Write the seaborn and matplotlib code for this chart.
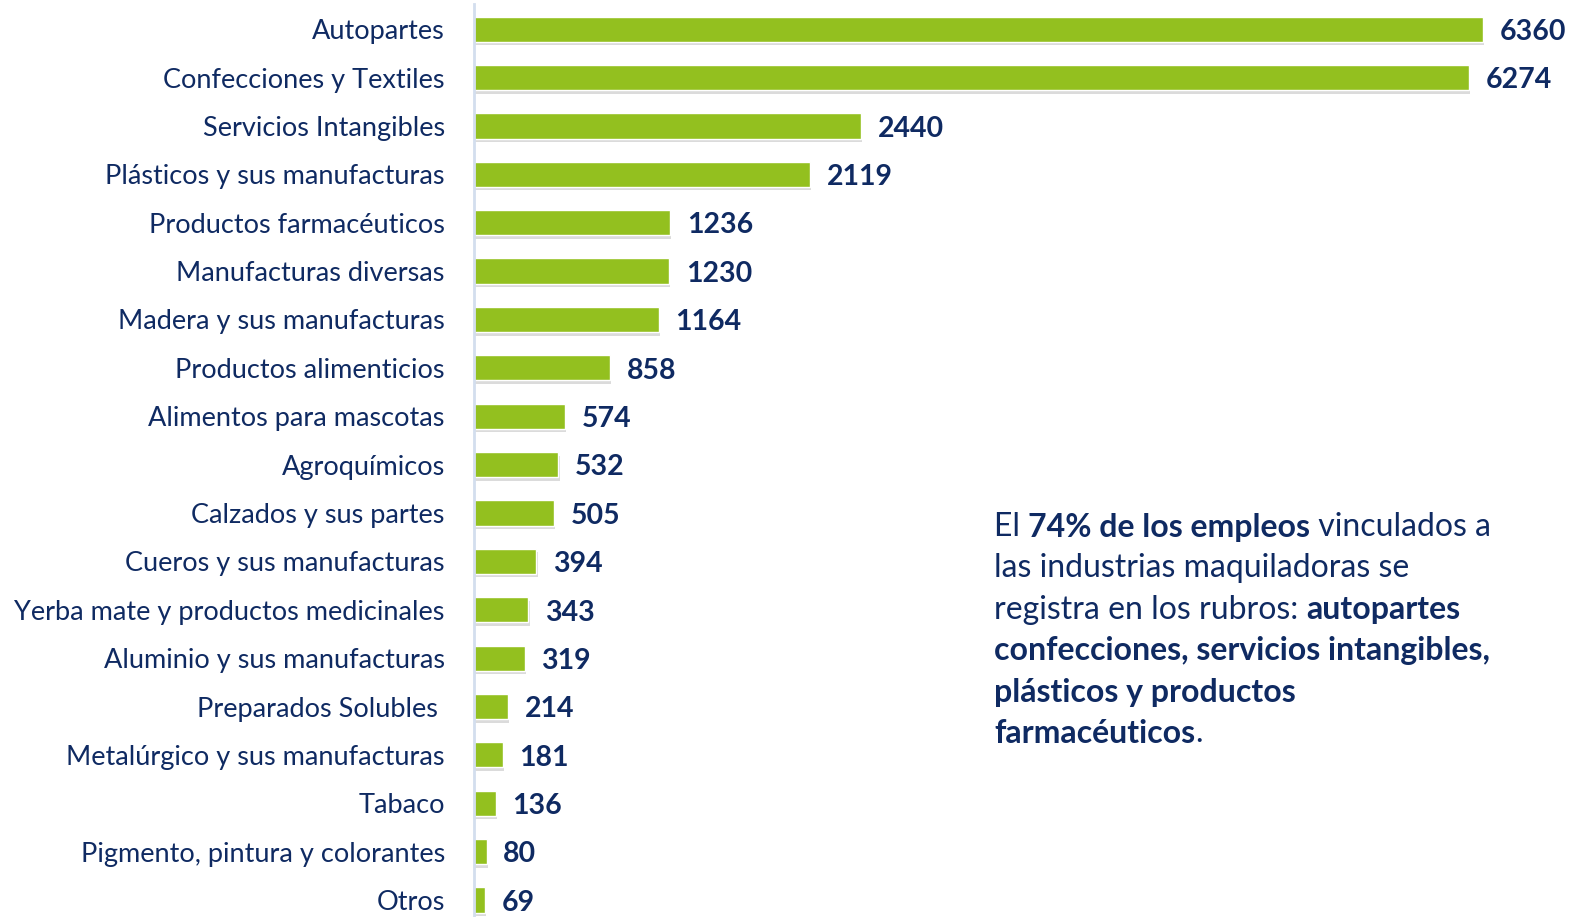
import matplotlib.pyplot as plt
import matplotlib.patheffects as pe
import pandas as pd
import seaborn as sns

categorias = [
    "Autopartes",
    "Confecciones y Textiles",
    "Servicios Intangibles",
    "Plásticos y sus manufacturas",
    "Productos farmacéuticos",
    "Manufacturas diversas",
    "Madera y sus manufacturas",
    "Productos alimenticios",
    "Alimentos para mascotas",
    "Agroquímicos",
    "Calzados y sus partes",
    "Cueros y sus manufacturas",
    "Yerba mate y productos medicinales",
    "Aluminio y sus manufacturas",
    "Preparados Solubles ",
    "Metalúrgico y sus manufacturas",
    "Tabaco",
    "Pigmento, pintura y colorantes",
    "Otros",
]
empleos = [6360, 6274, 2440, 2119, 1236, 1230, 1164, 858, 574, 532, 505, 394, 343, 319, 214, 181, 136, 80, 69]

texto = [
    [("El ", False), ("74% de los empleos", True), (" vinculados a", False)],
    [("las industrias maquiladoras se", False)],
    [("registra en los rubros: ", False), ("autopartes", True)],
    [("confecciones, servicios intangibles,", True)],
    [("plásticos y productos", True)],
    [("farmacéuticos", True), (".", False)],
]

VERDE = "#93c01f"
AZUL = "#0f2a62"

sns.set_theme(style="white")
plt.rcParams["font.family"] = ["Lato", "DejaVu Sans"]

df = pd.DataFrame({"rubro": categorias, "empleos": empleos})

W, H = 1579, 917
fig = plt.figure(figsize=(W / 100, H / 100), dpi=100)
ax = fig.add_axes([474 / W, 0, (W - 474) / W, 913 / H])

sns.barplot(data=df, x="empleos", y="rubro", color=VERDE, width=0.52,
            saturation=1, ax=ax)

for p in ax.patches:
    p.set_path_effects([pe.SimplePatchShadow(offset=(1, -2.5), shadow_rgbFace="#888888", alpha=0.3),
                        pe.Normal()])

etiquetas = ax.bar_label(ax.containers[0], fmt="%d", padding=12, fontsize=20.5,
                         fontweight="bold", color=AZUL)
for t in etiquetas:
    t.set_va("center")
    t.xyann = (12, -2)

ax.set_xlim(0, 6967)
ax.set_ylim(18.35, -0.52)
ax.set_xlabel("")
ax.set_ylabel("")
ax.set_xticks([])
ax.tick_params(axis="y", length=0, pad=21, labelsize=19.5, labelcolor=AZUL)
for s in ["top", "right", "bottom"]:
    ax.spines[s].set_visible(False)
ax.spines["left"].set_color("#d3deee")
ax.spines["left"].set_linewidth(2)

# texto con partes en negrita
fig.canvas.draw()
r = fig.canvas.get_renderer()
y0 = 527
for i, linea in enumerate(texto):
    x = 994
    y = y0 + i * 41.3
    for parte, negrita in linea:
        t = fig.text(x / W, 1 - y / H, parte, fontsize=23, color=AZUL, va="center", ha="left",
                     fontweight="bold" if negrita else "normal")
        bb = t.get_window_extent(renderer=r)
        x = bb.x1

fig.savefig("out.png", dpi=100)
